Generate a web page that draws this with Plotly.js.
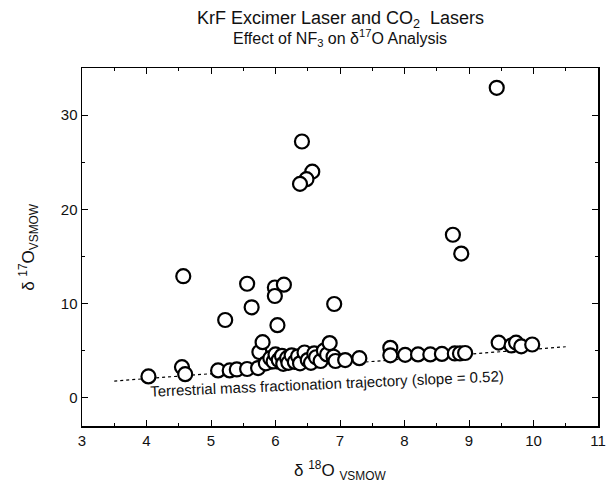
<!DOCTYPE html>
<html>
<head>
<meta charset="utf-8">
<script src="https://cdn.plot.ly/plotly-3.0.1.min.js"></script>
<style>html,body{margin:0;padding:0;background:#fff;}#chart{width:614px;height:489px;}</style>
</head>
<body>
<div id="chart"></div>
<script>
// delta 18O (x) and delta 17O (y) values, per mil vs VSMOW
const d18O = [
  4.03, 4.55, 4.60, 5.11, 5.29, 5.40, 5.56, 5.73,
  4.57, 5.56, 5.99, 6.13, 5.99, 5.63, 6.91, 5.22, 6.03,
  6.41, 6.57, 6.48, 6.38, 8.75, 8.88, 9.43,
  5.75, 5.80, 5.85, 5.92, 5.97, 6.00, 6.05, 6.10, 6.12, 6.18, 6.20, 6.25, 6.30, 6.35, 6.38,
  6.45, 6.50, 6.55, 6.60, 6.63, 6.70, 6.75, 6.80, 6.84, 6.90, 6.93, 7.08, 7.30,
  7.78, 7.78, 8.01, 8.21, 8.40, 8.58, 8.78, 8.86, 8.94,
  9.46, 9.66, 9.73, 9.81, 9.98
];
const d17O = [
  2.26, 3.25, 2.50, 2.90, 2.90, 3.00, 3.05, 3.15,
  12.9, 12.1, 11.7, 12.0, 10.8, 9.6, 9.95, 8.25, 7.7,
  27.2, 24.0, 23.2, 22.7, 17.3, 15.3, 32.9,
  4.85, 5.9, 3.65, 4.2, 3.85, 4.6, 4.0, 4.45, 3.6, 4.2, 3.7, 4.5, 3.8, 4.4, 3.65,
  4.8, 4.0, 3.7, 4.7, 4.3, 3.9, 5.0, 4.6, 5.8, 4.35, 3.9, 4.0, 4.2,
  5.3, 4.5, 4.55, 4.6, 4.6, 4.65, 4.7, 4.7, 4.75,
  5.85, 5.55, 5.85, 5.45, 5.65
];
// terrestrial mass fractionation trajectory endpoints
const tfX = [3.5, 10.5];
const tfY = [1.77, 5.41];

const xTickVals = [3, 4, 5, 6, 7, 8, 9, 10, 11];
const yTickVals = [0, 10, 20, 30];

const FONT = "Liberation Sans, Arial, Helvetica, sans-serif";

const traces = [
  {
    x: tfX, y: tfY, type: 'scatter', mode: 'lines',
    line: {color: '#000', width: 1.2, dash: '3px,3px'},
    hoverinfo: 'skip', showlegend: false
  },
  {
    x: d18O, y: d17O, type: 'scatter', mode: 'markers',
    marker: {symbol: 'circle', size: 14, color: '#fff', line: {color: '#000', width: 2.2}},
    showlegend: false
  }
];

const axisCommon = {
  showgrid: false, zeroline: false, showline: true, linecolor: '#000', linewidth: 1.5,
  mirror: 'ticks', ticks: 'inside', ticklen: 6, tickwidth: 1, tickcolor: '#000',
  tickfont: {family: FONT, size: 15, color: '#111'}
};

const layout = {
  width: 614, height: 489,
  margin: {l: 82, r: 16, t: 68, b: 63},
  paper_bgcolor: '#fff', plot_bgcolor: '#fff',
  font: {family: FONT, color: '#111'},
  xaxis: Object.assign({}, axisCommon, {
    range: [3, 11], tickvals: xTickVals, ticktext: xTickVals.map(String),
    minor: {dtick: 0.5, tick0: 3, ticks: 'inside', ticklen: 3, tickcolor: '#000'}
  }),
  yaxis: Object.assign({}, axisCommon, {
    range: [-3, 35], tickvals: yTickVals, ticktext: yTickVals.map(String),
    minor: {dtick: 5, tick0: 0, ticks: 'inside', ticklen: 3, tickcolor: '#000'}
  }),
  annotations: [
    {xref: 'paper', yref: 'paper', x: 0.5, y: 1.136, xanchor: 'center', yanchor: 'middle', showarrow: false,
     text: 'KrF Excimer Laser and CO<sub>2</sub>  Lasers', font: {family: FONT, size: 18, color: '#111'}},
    {xref: 'paper', yref: 'paper', x: 0.5, y: 1.084, xanchor: 'center', yanchor: 'middle', showarrow: false,
     text: 'Effect of NF<sub>3</sub> on δ<sup>17</sup>O Analysis', font: {family: FONT, size: 16, color: '#111'}},
    {xref: 'paper', yref: 'paper', x: -0.105, y: 0.5, xanchor: 'center', yanchor: 'middle', showarrow: false, textangle: -90,
     text: 'δ <sup>17</sup>O<sub>VSMOW</sub>', font: {family: FONT, size: 17, color: '#111'}},
    {xref: 'paper', yref: 'paper', x: 0.5, y: -0.125, xanchor: 'center', yanchor: 'middle', showarrow: false,
     text: 'δ <sup>18</sup>O <sub>VSMOW</sub>', font: {family: FONT, size: 17, color: '#111'}},
    {xref: 'x', yref: 'y', x: 6.8, y: 1.55, xanchor: 'center', yanchor: 'middle', showarrow: false, textangle: -2.5,
     text: 'Terrestrial mass fractionation trajectory (slope = 0.52)', font: {family: FONT, size: 15, color: '#111'}}
  ]
};

Plotly.newPlot('chart', traces, layout, {displayModeBar: false, staticPlot: true});
</script>
</body>
</html>
